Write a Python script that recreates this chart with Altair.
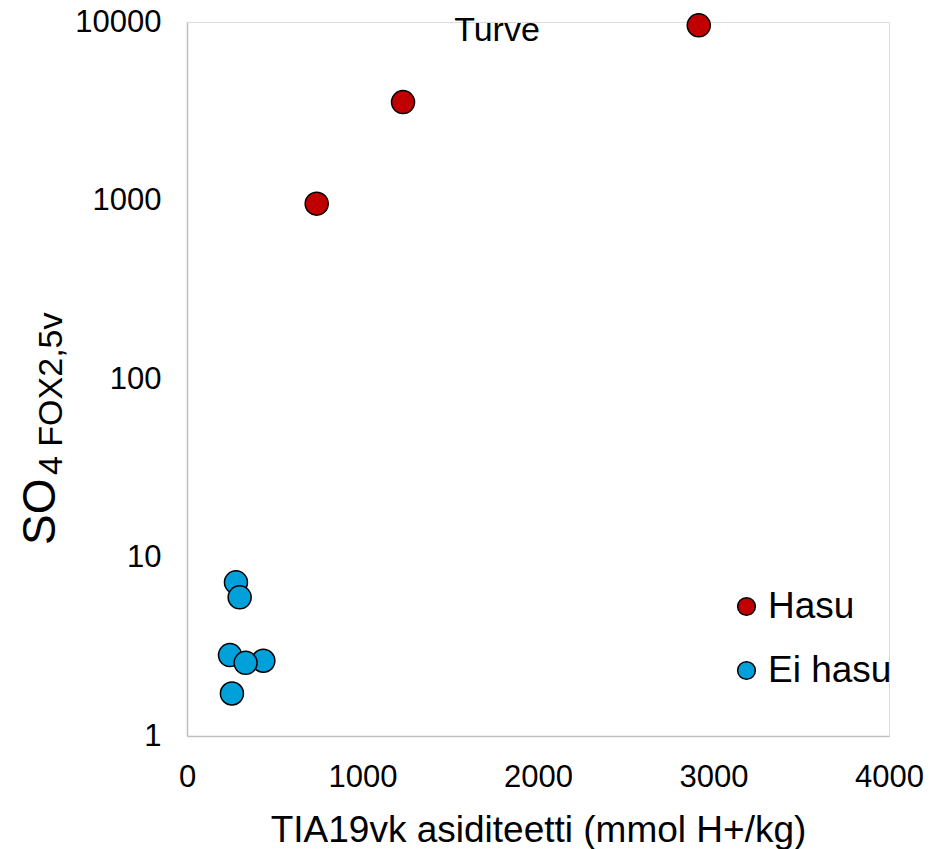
import altair as alt
import pandas as pd

# Data
hasu_x = [739, 1231, 2916]
hasu_y = [960, 3560, 9580]
ei_x = [279, 300, 245, 435, 334, 256]
ei_y = [7.26, 5.98, 2.84, 2.64, 2.57, 1.73]

groups = ["Hasu", "Ei hasu"]
colors = ["#C00000", "#00A0DA"]
x_ticks = [0, 1000, 2000, 3000, 4000]
y_ticks = [1, 10, 100, 1000, 10000]

df = pd.DataFrame({
    "x": hasu_x + ei_x,
    "y": hasu_y + ei_y,
    "g": ["Hasu"] * len(hasu_x) + ["Ei hasu"] * len(ei_x),
})

FONT = "Liberation Sans"

points = alt.Chart(df).mark_point(
    filled=True, shape="circle", size=530, stroke="black", strokeWidth=1.5, opacity=1
).encode(
    x=alt.X("x:Q", scale=alt.Scale(domain=[0, 4000], nice=False),
            axis=alt.Axis(values=x_ticks, format="d", title="TIA19vk asiditeetti (mmol H+/kg)", grid=False,
                          ticks=False, domainColor="#BFBFBF", domainWidth=1.5, labelFlush=False,
                          labelOverlap=False,
                          labelFont=FONT, labelFontSize=31, labelColor="black", labelPadding=26,
                          titleFont=FONT, titleFontSize=37, titleFontWeight="normal",
                          titleColor="black", titlePadding=20)),
    y=alt.Y("y:Q", scale=alt.Scale(type="log", domain=[1, 10000], nice=False),
            axis=alt.Axis(values=y_ticks, format="d", title=None, grid=False, ticks=False,
                          domainColor="#BFBFBF", domainWidth=1.5, labelFlush=False,
                          labelOverlap=False,
                          labelFont=FONT, labelFontSize=31, labelColor="black", labelPadding=26)),
    color=alt.Color("g:N", scale=alt.Scale(domain=groups, range=colors),
                    legend=alt.Legend(title=None, orient="none", legendX=541, legendY=566,
                                      symbolSize=314, symbolStrokeColor="black", symbolStrokeWidth=1.5,
                                      symbolType="circle", labelFont=FONT, labelFontSize=37,
                                      labelColor="black", labelOffset=3, rowPadding=26, padding=0)),
)

title_txt = alt.Chart(pd.DataFrame({"t": ["Turve"]})).mark_text(
    font=FONT, fontSize=34, color="black", align="center", baseline="middle"
).encode(x=alt.value(310), y=alt.value(9), text="t:N")

so_txt = alt.Chart(pd.DataFrame({"t": ["SO"]})).mark_text(
    font=FONT, fontSize=46, color="black", align="left", baseline="alphabetic", angle=270
).encode(x=alt.value(-132), y=alt.value(523), text="t:N")

sub_txt = alt.Chart(pd.DataFrame({"t": ["4 FOX2,5v"]})).mark_text(
    font=FONT, fontSize=34, color="black", align="left", baseline="alphabetic", angle=270
).encode(x=alt.value(-125), y=alt.value(453), text="t:N")

chart = alt.layer(points, title_txt, so_txt, sub_txt).properties(
    width=702, height=714,
    autosize=alt.AutoSizeParams(type="none"),
    padding={"left": 187, "top": 22, "right": 46, "bottom": 113},
).configure_view(stroke=None).configure(background="white")

chart.save("out.html", embed_options={"renderer": "svg", "actions": False})
